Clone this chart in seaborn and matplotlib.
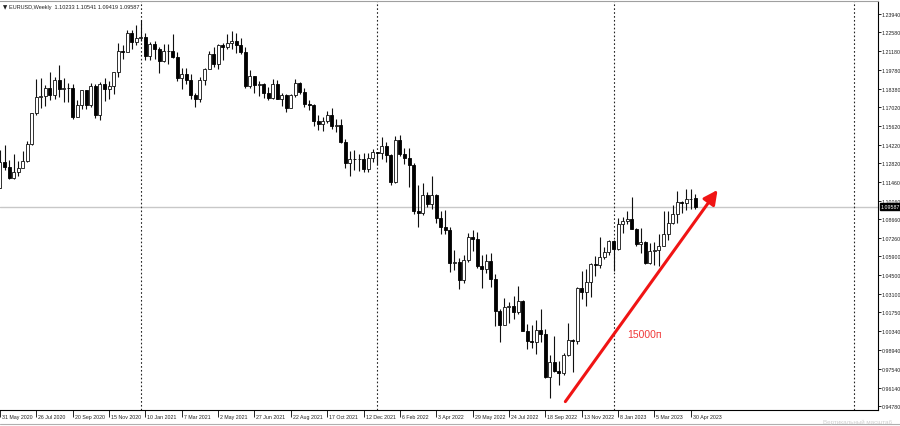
import pandas as pd
import matplotlib
matplotlib.use("Agg")
import matplotlib.pyplot as plt
import matplotlib.transforms as mtransforms
import seaborn as sns

# EURUSD weekly candles (weeks starting on Sunday)
weeks = pd.date_range("2020-05-31", periods=154, freq="W-SUN")

opens = [1.1100, 1.1290, 1.1256, 1.1177, 1.1220, 1.1247, 1.1300, 1.1427, 1.1655, 1.1778,
         1.1787, 1.1841, 1.1795, 1.1903, 1.1837, 1.1845, 1.1840, 1.1631, 1.1715, 1.1826,
         1.1718, 1.1860, 1.1646, 1.1875, 1.1834, 1.1856, 1.1963, 1.2121, 1.2112, 1.2255,
         1.2187, 1.2213, 1.2220, 1.2081, 1.2170, 1.2136, 1.2044, 1.2120, 1.2120, 1.2075,
         1.1915, 1.1950, 1.1905, 1.1794, 1.1764, 1.1900, 1.1982, 1.2097, 1.2020, 1.2165,
         1.2145, 1.2180, 1.2192, 1.2167, 1.2108, 1.1860, 1.1935, 1.1865, 1.1875, 1.1808,
         1.1770, 1.1870, 1.1760, 1.1795, 1.1697, 1.1794, 1.1880, 1.1812, 1.1727, 1.1719,
         1.1597, 1.1573, 1.1601, 1.1644, 1.1558, 1.1567, 1.1445, 1.1287, 1.1317, 1.1314,
         1.1317, 1.1239, 1.1324, 1.1370, 1.1360, 1.1410, 1.1346, 1.1145, 1.1456, 1.1349,
         1.1322, 1.1271, 1.0929, 1.0911, 1.1050, 1.0983, 1.1048, 1.0877, 1.0810, 1.0787,
         1.0545, 1.0550, 1.0413, 1.0562, 1.0734, 1.0719, 1.0518, 1.0495, 1.0555, 1.0420,
         1.0185, 1.0080, 1.0212, 1.0220, 1.0180, 1.0260, 1.0038, 0.9963, 0.9953, 1.0040,
         1.0015, 0.9690, 0.9802, 0.9741, 0.9720, 0.9860, 0.9965, 0.9960, 1.0352, 1.0325,
         1.0397, 1.0535, 1.0530, 1.0585, 1.0620, 1.0705, 1.0645, 1.0830, 1.0855, 1.0870,
         1.0795, 1.0680, 1.0695, 1.0545, 1.0633, 1.0640, 1.0670, 1.0760, 1.0840, 1.0905,
         1.0993, 1.0990, 1.1018, 1.10233]

highs = [1.1384, 1.1422, 1.1306, 1.1349, 1.1303, 1.1375, 1.1452, 1.1660, 1.1909, 1.1916,
         1.1865, 1.1966, 1.1924, 1.2011, 1.1917, 1.1882, 1.1872, 1.1754, 1.1831, 1.1830,
         1.1881, 1.1870, 1.1891, 1.1920, 1.1893, 1.1964, 1.2177, 1.2167, 1.2273, 1.2272,
         1.2310, 1.2349, 1.2249, 1.2189, 1.2190, 1.2150, 1.2170, 1.2170, 1.2243, 1.2113,
         1.1990, 1.1989, 1.1945, 1.1808, 1.1927, 1.1994, 1.2117, 1.2150, 1.2169, 1.2181,
         1.2245, 1.2267, 1.2254, 1.2218, 1.2145, 1.1975, 1.1936, 1.1895, 1.1880, 1.1850,
         1.1909, 1.1900, 1.1806, 1.1800, 1.1801, 1.1909, 1.1885, 1.1847, 1.1752, 1.1725,
         1.1640, 1.1624, 1.1669, 1.1692, 1.1616, 1.1610, 1.1464, 1.1374, 1.1383, 1.1355,
         1.1360, 1.1360, 1.1386, 1.1365, 1.1482, 1.1440, 1.1350, 1.1483, 1.1495, 1.1395,
         1.1395, 1.1289, 1.1121, 1.1137, 1.1070, 1.1185, 1.1054, 1.0925, 1.0936, 1.0810,
         1.0641, 1.0580, 1.0600, 1.0765, 1.0787, 1.0774, 1.0601, 1.0606, 1.0615, 1.0463,
         1.0200, 1.0278, 1.0254, 1.0293, 1.0368, 1.0267, 1.0090, 1.0079, 1.0114, 1.0198,
         1.0050, 0.9855, 0.9999, 0.9809, 0.9875, 1.0094, 0.9977, 1.0364, 1.0481, 1.0497,
         1.0545, 1.0595, 1.0737, 1.0658, 1.0713, 1.0713, 1.0875, 1.0887, 1.0929, 1.1033,
         1.0805, 1.0805, 1.0705, 1.0691, 1.0695, 1.0760, 1.0930, 1.0925, 1.0973, 1.1075,
         1.0999, 1.1095, 1.1092, 1.10541]

lows = [1.1097, 1.1236, 1.1168, 1.1168, 1.1185, 1.1253, 1.1296, 1.1422, 1.1646, 1.1696,
        1.1711, 1.1753, 1.1760, 1.1780, 1.1737, 1.1737, 1.1612, 1.1625, 1.1689, 1.1689,
        1.1703, 1.1622, 1.1603, 1.1745, 1.1761, 1.1800, 1.1923, 1.2059, 1.2115, 1.2130,
        1.2160, 1.2192, 1.2054, 1.2053, 1.2058, 1.1952, 1.2040, 1.2023, 1.2070, 1.1893,
        1.1836, 1.1873, 1.1762, 1.1704, 1.1737, 1.1867, 1.1982, 1.2000, 1.1986, 1.2052,
        1.2132, 1.2133, 1.2104, 1.2093, 1.1847, 1.1847, 1.1807, 1.1782, 1.1772, 1.1752,
        1.1758, 1.1760, 1.1706, 1.1664, 1.1692, 1.1778, 1.1800, 1.1700, 1.1683, 1.1563,
        1.1529, 1.1524, 1.1586, 1.1535, 1.1513, 1.1432, 1.1250, 1.1186, 1.1235, 1.1228,
        1.1222, 1.1220, 1.1295, 1.1272, 1.1313, 1.1290, 1.1121, 1.1140, 1.1340, 1.1280,
        1.1106, 1.0905, 1.0806, 1.0900, 1.0960, 1.0945, 1.0837, 1.0757, 1.0760, 1.0471,
        1.0492, 1.0349, 1.0389, 1.0550, 1.0627, 1.0507, 1.0359, 1.0469, 1.0366, 1.0071,
        0.9952, 1.0080, 1.0096, 1.0122, 1.0160, 1.0034, 0.9900, 0.9910, 0.9864, 0.9955,
        0.9685, 0.9536, 0.9733, 0.9631, 0.9705, 0.9850, 0.9730, 0.9935, 1.0270, 1.0223,
        1.0290, 1.0443, 1.0505, 1.0573, 1.0604, 1.0483, 1.0640, 1.0766, 1.0835, 1.0795,
        1.0670, 1.0613, 1.0533, 1.0533, 1.0524, 1.0516, 1.0667, 1.0713, 1.0832, 1.0837,
        1.0910, 1.0939, 1.0942, 1.09419]

closes = [1.1290, 1.1256, 1.1177, 1.1220, 1.1247, 1.1300, 1.1427, 1.1655, 1.1778, 1.1787,
          1.1841, 1.1795, 1.1903, 1.1837, 1.1845, 1.1840, 1.1631, 1.1715, 1.1826, 1.1718,
          1.1860, 1.1646, 1.1875, 1.1834, 1.1856, 1.1963, 1.2121, 1.2112, 1.2255, 1.2187,
          1.2213, 1.2220, 1.2081, 1.2170, 1.2136, 1.2044, 1.2120, 1.2120, 1.2075, 1.1915,
          1.1950, 1.1905, 1.1794, 1.1764, 1.1900, 1.1982, 1.2097, 1.2020, 1.2165, 1.2145,
          1.2180, 1.2192, 1.2167, 1.2108, 1.1860, 1.1935, 1.1865, 1.1875, 1.1808, 1.1770,
          1.1870, 1.1760, 1.1795, 1.1697, 1.1794, 1.1880, 1.1812, 1.1727, 1.1719, 1.1597,
          1.1573, 1.1601, 1.1644, 1.1558, 1.1567, 1.1445, 1.1287, 1.1317, 1.1314, 1.1317,
          1.1239, 1.1324, 1.1370, 1.1360, 1.1410, 1.1346, 1.1145, 1.1456, 1.1349, 1.1322,
          1.1271, 1.0929, 1.0911, 1.1050, 1.0983, 1.1048, 1.0877, 1.0810, 1.0787, 1.0545,
          1.0550, 1.0413, 1.0562, 1.0734, 1.0719, 1.0518, 1.0495, 1.0555, 1.0420, 1.0185,
          1.0080, 1.0212, 1.0220, 1.0180, 1.0260, 1.0038, 0.9963, 0.9953, 1.0040, 1.0015,
          0.9690, 0.9802, 0.9741, 0.9720, 0.9860, 0.9965, 0.9960, 1.0352, 1.0325, 1.0397,
          1.0535, 1.0530, 1.0585, 1.0620, 1.0705, 1.0645, 1.0830, 1.0855, 1.0870, 1.0795,
          1.0680, 1.0695, 1.0545, 1.0633, 1.0640, 1.0670, 1.0760, 1.0840, 1.0905, 1.0993,
          1.0990, 1.1018, 1.1020, 1.09587]

date_labels = ["31 May 2020", "26 Jul 2020", "20 Sep 2020", "15 Nov 2020", "10 Jan 2021",
               "7 Mar 2021", "2 May 2021", "27 Jun 2021", "22 Aug 2021", "17 Oct 2021",
               "12 Dec 2021", "6 Feb 2022", "3 Apr 2022", "29 May 2022", "24 Jul 2022",
               "18 Sep 2022", "13 Nov 2022", "8 Jan 2023", "5 Mar 2023", "30 Apr 2023"]

price_ticks = [1.23940, 1.22580, 1.21180, 1.19780, 1.18380, 1.17020, 1.15620, 1.14220,
               1.12820, 1.11460, 1.10060, 1.08660, 1.07260, 1.05900, 1.04500, 1.03100,
               1.01750, 1.00340, 0.98940, 0.97540, 0.96140, 0.94780]

title_text = "EURUSD,Weekly  1.10233 1.10541 1.09419 1.09587"
move_label = "15000п"
arrow_from = (124.4, 0.9510)   # week index, price
arrow_to = (157.9, 1.1085)

df = pd.DataFrame({"week": weeks, "open": opens, "high": highs, "low": lows, "close": closes})
df["i"] = range(len(df))
df["bull"] = df["close"] >= df["open"]

sns.set_theme(style="white")
plt.rcParams["font.family"] = ["Liberation Sans", "DejaVu Sans"]

W, H = 900, 427
fig = plt.figure(figsize=(9, 4.27), dpi=100)
ax = fig.add_axes([0, (H - 411) / H, 878 / W, (411 - 2) / H])

# price scale: 1.2394 at y=15px, ~1344 px per 1.0
px_per_unit = 1344.0
ax.set_ylim(1.2394 - (411 - 15) / px_per_unit, 1.2394 + (15 - 2) / px_per_unit)
px_per_week = 4.55
x0 = 1.05 / px_per_week
ax.set_xlim(x0, x0 + 878 / px_per_week)

# current price line
ax.axhline(closes[-1], color="#c8c8c8", lw=1, zorder=1)

# year separators
all_weeks = pd.date_range("2020-05-31", periods=200, freq="W-SUN")
for k in range(1, len(all_weeks)):
    if all_weeks[k].year != all_weeks[k - 1].year:
        ax.axvline(k, color="#222222", lw=0.8, ls=(0, (1.5, 2)), zorder=1)

# candles
ax.vlines(df["i"], df["low"], df["high"], color="#101010", lw=0.8, zorder=2)
body_w = 0.66
bull = df[df["bull"]]
bear = df[~df["bull"]]
ax.bar(bull["i"], bull["close"] - bull["open"], bottom=bull["open"], width=body_w,
       color="white", edgecolor="#101010", linewidth=0.6, zorder=3)
ax.bar(bear["i"], bear["close"] - bear["open"], bottom=bear["open"], width=body_w,
       color="black", edgecolor="black", linewidth=0.6, zorder=3)

# red arrow and label
ax.annotate("", xy=arrow_to, xytext=arrow_from,
            arrowprops=dict(arrowstyle="-|>,head_length=0.7,head_width=0.35",
                            color="#f01414", lw=2.2, shrinkA=0, shrinkB=0), zorder=5)
ax.text(141.7, 1.0013, move_label, color="#f03a3a", fontsize=7.5,
        ha="center", va="center", zorder=5)

# axes styling
sns.despine(ax=ax, left=True, top=False, right=False, bottom=False)
for side in ["right", "bottom"]:
    ax.spines[side].set_color("black")
    ax.spines[side].set_linewidth(0.8)
ax.spines["top"].set_color("#a0a0a0")
ax.spines["top"].set_linewidth(0.8)
ax.grid(False)

label_pos = [weeks.get_loc(pd.Timestamp(d)) for d in date_labels]
ax.set_xticks(label_pos)
ax.set_xticklabels(date_labels, fontsize=3.8, ha="left", color="#202020")
ax.tick_params(axis="x", direction="out", length=5, width=0.6, color="black", pad=-2,
               bottom=True)
shift = mtransforms.ScaledTranslation(2 / 100, 0, fig.dpi_scale_trans)
for lbl in ax.get_xticklabels():
    lbl.set_transform(lbl.get_transform() + shift)

ax.yaxis.tick_right()
ax.set_yticks(price_ticks)
ax.set_yticklabels([f"{p:.5f}" for p in price_ticks], fontsize=3.8, color="#202020")
ax.tick_params(axis="y", direction="out", length=2, width=0.6, color="black", pad=0.8,
               right=True, left=False)

# current price box
ax.text(1.003, closes[-1], f"{closes[-1]:.5f}", transform=ax.get_yaxis_transform(),
        fontsize=3.8, color="white", va="center", ha="left", zorder=6,
        bbox=dict(boxstyle="square,pad=0.2", fc="black", ec="black"))

# chart title
fig.text(3 / W, 1 - 8 / H, "▼", fontsize=4, va="center", ha="left", color="#202020",
         family=["DejaVu Sans"])
fig.text(9 / W, 1 - 8 / H, title_text, fontsize=4.0, va="center", ha="left", color="#202020")

# bottom tab strip and vertical scale hint
fig.add_artist(plt.Line2D([0, 1], [1 - 424.5 / H, 1 - 424.5 / H], color="#b0b0b0", lw=0.8))
fig.text(1 - 8 / W, 1 - 422 / H, "Вертикальный масштаб", fontsize=4.5, color="#d0d0d0",
         ha="right", va="center")

fig.savefig("out.png", dpi=100, facecolor="white")
